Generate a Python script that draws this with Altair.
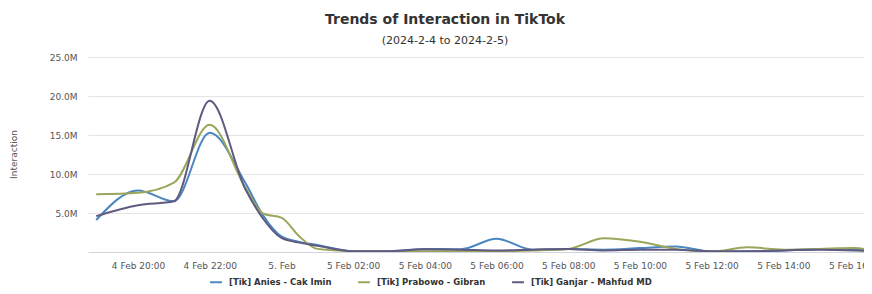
import altair as alt
import pandas as pd

# ---- data ----
times = [
    "2024-02-04 18:50", "2024-02-04 20:00", "2024-02-04 21:00", "2024-02-04 22:00",
    "2024-02-04 23:00", "2024-02-04 23:30", "2024-02-05 00:00", "2024-02-05 00:30",
    "2024-02-05 01:00", "2024-02-05 02:00", "2024-02-05 03:00", "2024-02-05 04:00",
    "2024-02-05 05:00", "2024-02-05 06:00", "2024-02-05 07:00", "2024-02-05 08:00",
    "2024-02-05 09:00", "2024-02-05 10:00", "2024-02-05 11:00", "2024-02-05 12:00",
    "2024-02-05 13:00", "2024-02-05 14:00", "2024-02-05 15:00", "2024-02-05 16:00",
    "2024-02-05 16:30",
]
anies = [4.1, 7.9, 6.5, 15.3, 8.8, 4.6, 2.0, 1.3, 0.9, 0.1, 0.1, 0.4,
         0.35, 1.7, 0.3, 0.4, 0.3, 0.5, 0.7, 0.05, 0.1, 0.2, 0.4, 0.3, 0.1]
prabowo = [7.4, 7.6, 8.9, 16.3, 8.2, 4.9, 4.4, 2.0, 0.4, 0.1, 0.05, 0.1,
           0.1, 0.1, 0.2, 0.4, 1.75, 1.3, 0.4, 0.05, 0.6, 0.3, 0.4, 0.5, 0.2]
ganjar = [4.6, 6.0, 6.5, 19.4, 8.0, 4.2, 1.8, 1.2, 0.8, 0.1, 0.1, 0.35,
          0.3, 0.2, 0.3, 0.4, 0.2, 0.3, 0.3, 0.1, 0.1, 0.2, 0.3, 0.2, 0.1]
series_names = ["[Tik] Anies - Cak Imin", "[Tik] Prabowo - Gibran", "[Tik] Ganjar - Mahfud MD"]
series_colors = ["#4a87c0", "#9aa65a", "#5f5a80"]
tick_hours = [20, 22, 24, 26, 28, 30, 32, 34, 36, 38, 40]
y_ticks = [5e6, 10e6, 15e6, 20e6, 25e6]

# ---- build table ----
base = pd.Timestamp("2024-02-04 00:00")
hours = [(pd.Timestamp(t) - base).total_seconds() / 3600 for t in times]
rows = []
for name, vals in zip(series_names, [anies, prabowo, ganjar]):
    for h, v in zip(hours, vals):
        rows.append({"hour": h, "value": v * 1e6, "series": name})
df = pd.DataFrame(rows)

FONT = "DejaVu Sans"

x_label_expr = (
    "datum.value == 24 ? '5. Feb' : "
    "(datum.value < 24 ? '4 Feb ' + format(datum.value, '02d') + ':00' : "
    "'5 Feb ' + format(datum.value - 24, '02d') + ':00')"
)

chart = alt.Chart(df).mark_line(
    interpolate="monotone", strokeWidth=2, clip=True
).encode(
    x=alt.X(
        "hour:Q",
        scale=alt.Scale(domain=[18.605, 40.25], nice=False, zero=False),
        axis=alt.Axis(
            values=tick_hours, labelExpr=x_label_expr, title=None, grid=False,
            ticks=False, domain=True, domainColor="#d0d4dc", domainWidth=1,
            labelFont=FONT, labelFontSize=9, labelColor="#555555", labelPadding=9,
            labelFlush=False, labelOverlap=False,
        ),
    ),
    y=alt.Y(
        "value:Q",
        scale=alt.Scale(domain=[0, 25e6], nice=False),
        axis=alt.Axis(
            values=y_ticks, labelExpr="format(datum.value / 1e6, '.1f') + 'M'",
            title="Interaction", titleFont=FONT, titleFontSize=9, titleFontWeight="normal",
            titleColor="#555555", titleX=-75, titleY=97, titleAngle=-90,
            titleAlign="center", titleBaseline="middle",
            grid=True, gridColor="#e4e4e4", gridWidth=1, domain=False, ticks=False,
            labelFont=FONT, labelFontSize=9, labelColor="#555555", labelPadding=11,
        ),
    ),
    color=alt.Color(
        "series:N",
        scale=alt.Scale(domain=series_names, range=series_colors),
        sort=series_names,
        legend=alt.Legend(
            title=None, orient="none", legendX=121, legendY=218, direction="horizontal",
            columns=3, columnPadding=22, symbolType="stroke", symbolSize=140,
            symbolStrokeWidth=2, labelFont=FONT, labelFontSize=8.5,
            labelFontWeight="bold", labelColor="#333333", labelOffset=6,
        ),
    ),
).properties(
    width=776,
    height=195,
    background="white",
    title=alt.TitleParams(
        text="Trends of Interaction in TikTok",
        subtitle="(2024-2-4 to 2024-2-5)",
        anchor="middle", frame="group", dx=-31, offset=7,
        font=FONT, fontSize=14, fontWeight="bold", color="#333333",
        subtitleFont=FONT, subtitleFontSize=11, subtitleColor="#333333",
        subtitlePadding=8,
    ),
    autosize=alt.AutoSizeParams(type="none"),
    padding={"left": 80, "top": 49, "right": 0, "bottom": 38},
).configure_view(stroke=None)

chart.save("out.html", embed_options={"renderer": "svg", "actions": False})
